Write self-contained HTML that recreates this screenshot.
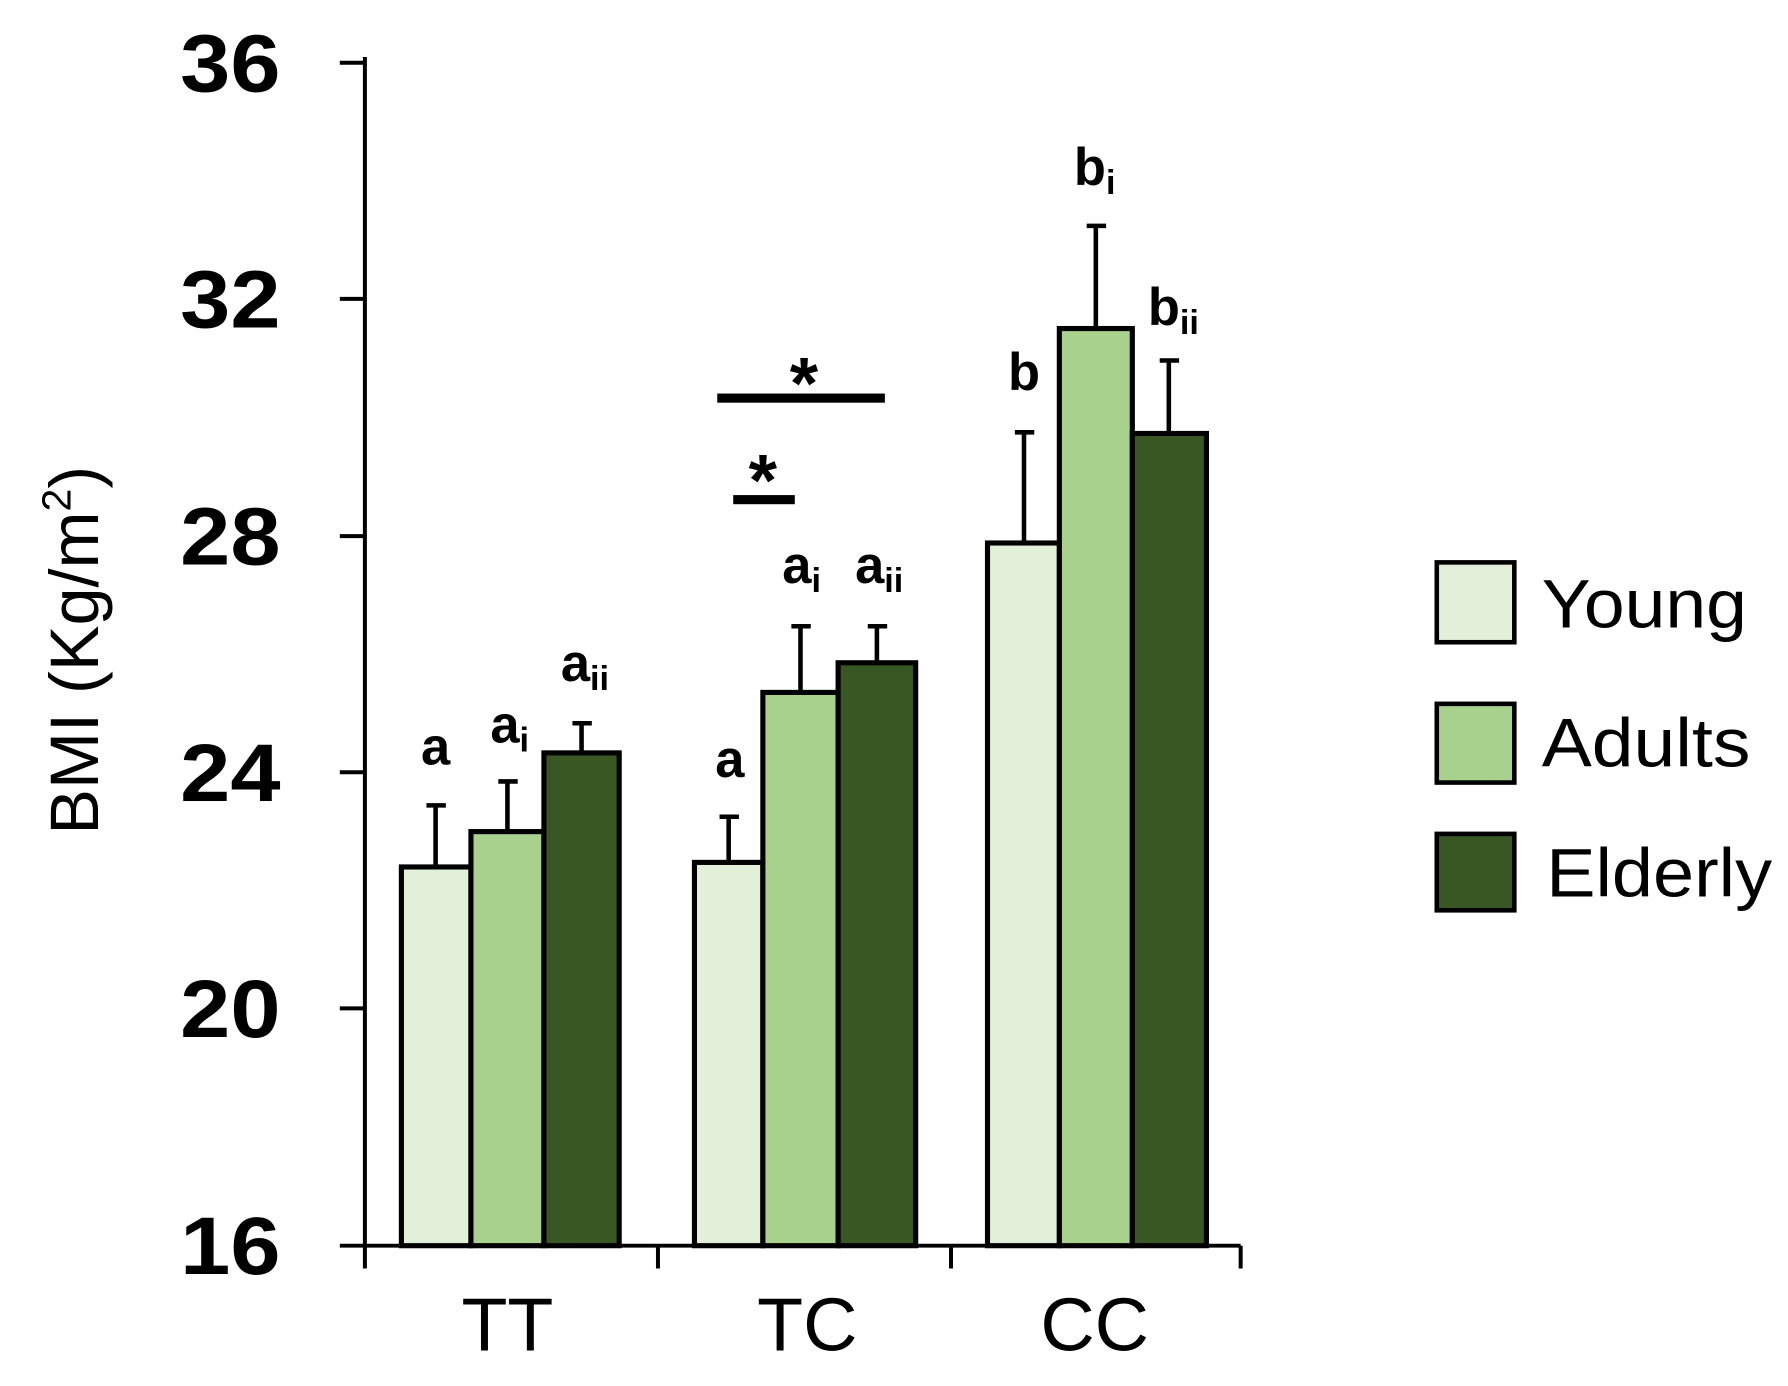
<!DOCTYPE html>
<html><head><style>html,body{margin:0;padding:0;background:#fff}svg{display:block}</style></head>
<body>
<svg width="1788" height="1386" viewBox="0 0 1568 1215" preserveAspectRatio="none" xmlns="http://www.w3.org/2000/svg" font-family="Liberation Sans, sans-serif">
<g stroke="#000" stroke-width="3.5" fill="none">
<line x1="320" y1="50" x2="320" y2="1092"/>
<line x1="298" y1="1092" x2="1088" y2="1092"/>
<line x1="298" y1="55" x2="320" y2="55"/>
<line x1="298" y1="262" x2="320" y2="262"/>
<line x1="298" y1="470" x2="320" y2="470"/>
<line x1="298" y1="677" x2="320" y2="677"/>
<line x1="298" y1="884" x2="320" y2="884"/>
<line x1="320" y1="1092" x2="320" y2="1112"/>
<line x1="577" y1="1092" x2="577" y2="1112"/>
<line x1="834" y1="1092" x2="834" y2="1112"/>
<line x1="1088" y1="1092" x2="1088" y2="1112"/>
</g>
<g font-size="72" font-weight="bold">
<text x="158" y="80" textLength="88" lengthAdjust="spacingAndGlyphs">36</text>
<text x="158" y="287" textLength="88" lengthAdjust="spacingAndGlyphs">32</text>
<text x="158" y="495" textLength="88" lengthAdjust="spacingAndGlyphs">28</text>
<text x="158" y="702" textLength="88" lengthAdjust="spacingAndGlyphs">24</text>
<text x="158" y="909" textLength="88" lengthAdjust="spacingAndGlyphs">20</text>
<text x="158" y="1117" textLength="88" lengthAdjust="spacingAndGlyphs">16</text>
</g>
<text transform="translate(86,570) rotate(-90)" font-size="60" text-anchor="middle">BMI (Kg/m<tspan font-size="36" dy="-24">2</tspan><tspan dy="24">)</tspan></text>
<g font-size="66" text-anchor="middle">
<text x="445" y="1184">TT</text><text x="708" y="1184">TC</text><text x="960" y="1184">CC</text>
</g>
<g stroke="#000" stroke-width="4">
<line x1="382" y1="760" x2="382" y2="706"/><line x1="374" y1="706" x2="391" y2="706"/>
<line x1="445" y1="729" x2="445" y2="685"/><line x1="437" y1="685" x2="454" y2="685"/>
<line x1="510" y1="660" x2="510" y2="634"/><line x1="502" y1="634" x2="519" y2="634"/>
<line x1="639" y1="756" x2="639" y2="716"/><line x1="631" y1="716" x2="648" y2="716"/>
<line x1="702" y1="607" x2="702" y2="549"/><line x1="694" y1="549" x2="711" y2="549"/>
<line x1="769" y1="581" x2="769" y2="549"/><line x1="761" y1="549" x2="778" y2="549"/>
<line x1="898" y1="476" x2="898" y2="379"/><line x1="890" y1="379" x2="907" y2="379"/>
<line x1="961" y1="288" x2="961" y2="198"/><line x1="953" y1="198" x2="970" y2="198"/>
<line x1="1025" y1="380" x2="1025" y2="316"/><line x1="1017" y1="316" x2="1034" y2="316"/>
</g>
<g stroke="#000" stroke-width="4.5">
<rect x="352" y="760" width="61" height="332" fill="#e2efd9"/>
<rect x="413" y="729" width="64" height="363" fill="#a9d18e"/>
<rect x="477" y="660" width="66" height="432" fill="#385723"/>
<rect x="609" y="756" width="60" height="336" fill="#e2efd9"/>
<rect x="669" y="607" width="66" height="485" fill="#a9d18e"/>
<rect x="735" y="581" width="68" height="511" fill="#385723"/>
<rect x="866" y="476" width="63" height="616" fill="#e2efd9"/>
<rect x="929" y="288" width="64" height="804" fill="#a9d18e"/>
<rect x="993" y="380" width="65" height="712" fill="#385723"/>
</g>
<rect x="629" y="345" width="147" height="8" fill="#000"/>
<rect x="643" y="434" width="54" height="8" fill="#000"/>
<g font-size="64" font-weight="bold" text-anchor="middle">
<text x="705" y="358">*</text><text x="669" y="443">*</text>
</g>
<g font-size="46" font-weight="bold" text-anchor="middle">
<text x="382" y="670">a</text>
<text x="447" y="651">a<tspan font-size="30" dy="8">i</tspan></text>
<text x="513" y="597">a<tspan font-size="30" dy="8">ii</tspan></text>
<text x="640" y="681">a</text>
<text x="703" y="511">a<tspan font-size="30" dy="8">i</tspan></text>
<text x="771" y="511">a<tspan font-size="30" dy="8">ii</tspan></text>
<text x="898" y="342">b</text>
<text x="960" y="162">b<tspan font-size="30" dy="8">i</tspan></text>
<text x="1029" y="285">b<tspan font-size="30" dy="8">ii</tspan></text>
</g>
<g stroke="#000" stroke-width="4">
<rect x="1260" y="493" width="68" height="70" fill="#e2efd9"/>
<rect x="1260" y="617" width="68" height="69" fill="#a9d18e"/>
<rect x="1260" y="731" width="68" height="67" fill="#385723"/>
</g>
<g font-size="60">
<text x="1352" y="550" textLength="180" lengthAdjust="spacingAndGlyphs">Young</text>
<text x="1352" y="672" textLength="183" lengthAdjust="spacingAndGlyphs">Adults</text>
<text x="1356" y="786" textLength="198" lengthAdjust="spacingAndGlyphs">Elderly</text>
</g>
</svg>
</body></html>
